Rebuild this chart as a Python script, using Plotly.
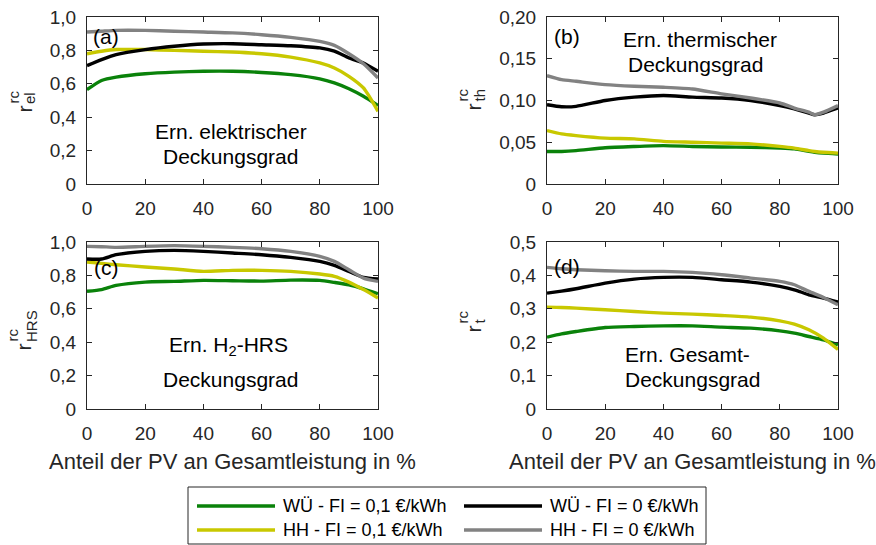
import plotly.graph_objects as go

W, H = 876, 545

# ---------------- data ----------------
x_a = [0, 5, 10, 20, 30, 40, 50, 60, 70, 80, 85, 90, 95, 100]
a_wue_01 = [0.565, 0.62, 0.64, 0.66, 0.67, 0.675, 0.675, 0.668, 0.655, 0.63, 0.605, 0.57, 0.525, 0.47]
a_wue_0 = [0.709, 0.745, 0.775, 0.805, 0.825, 0.838, 0.84, 0.834, 0.828, 0.815, 0.795, 0.755, 0.725, 0.675]
a_hh_01 = [0.78, 0.795, 0.805, 0.805, 0.80, 0.795, 0.79, 0.78, 0.76, 0.725, 0.695, 0.645, 0.575, 0.435]
a_hh_0 = [0.91, 0.915, 0.92, 0.92, 0.915, 0.91, 0.905, 0.894, 0.878, 0.854, 0.83, 0.78, 0.72, 0.635]

x_b = [0, 5, 10, 20, 30, 40, 50, 60, 70, 80, 85, 90, 92, 95, 100]
b_wue_01 = [0.039, 0.039, 0.040, 0.0435, 0.045, 0.046, 0.045, 0.0443, 0.044, 0.043, 0.042, 0.039, 0.038, 0.037, 0.036]
b_wue_0 = [0.095, 0.0925, 0.093, 0.100, 0.104, 0.106, 0.104, 0.103, 0.100, 0.094, 0.090, 0.085, 0.083, 0.085, 0.091]
b_hh_01 = [0.064, 0.060, 0.058, 0.055, 0.054, 0.051, 0.050, 0.049, 0.048, 0.045, 0.043, 0.040, 0.039, 0.038, 0.037]
b_hh_0 = [0.1297, 0.125, 0.123, 0.119, 0.117, 0.1158, 0.1138, 0.108, 0.103, 0.097, 0.091, 0.086, 0.083, 0.086, 0.094]

x_c = [0, 5, 10, 20, 30, 40, 50, 60, 70, 80, 85, 90, 95, 100]
c_wue_01 = [0.705, 0.715, 0.74, 0.76, 0.764, 0.77, 0.768, 0.766, 0.772, 0.77, 0.758, 0.744, 0.72, 0.69]
c_wue_0 = [0.898, 0.898, 0.924, 0.944, 0.95, 0.944, 0.934, 0.924, 0.908, 0.884, 0.86, 0.824, 0.788, 0.778]
c_hh_01 = [0.88, 0.872, 0.864, 0.85, 0.838, 0.824, 0.83, 0.83, 0.824, 0.808, 0.794, 0.76, 0.715, 0.665]
c_hh_0 = [0.974, 0.972, 0.968, 0.974, 0.978, 0.974, 0.968, 0.96, 0.944, 0.914, 0.884, 0.834, 0.784, 0.764]

x_d = [0, 5, 10, 20, 30, 40, 50, 60, 70, 80, 85, 90, 95, 100]
d_wue_01 = [0.215, 0.225, 0.232, 0.244, 0.247, 0.249, 0.249, 0.245, 0.242, 0.234, 0.227, 0.217, 0.207, 0.192]
d_wue_0 = [0.347, 0.353, 0.36, 0.377, 0.389, 0.394, 0.394, 0.387, 0.38, 0.367, 0.357, 0.342, 0.332, 0.32]
d_hh_01 = [0.305, 0.304, 0.302, 0.297, 0.292, 0.287, 0.284, 0.28, 0.275, 0.264, 0.254, 0.237, 0.212, 0.178]
d_hh_0 = [0.424, 0.42, 0.417, 0.414, 0.412, 0.412, 0.409, 0.402, 0.392, 0.382, 0.372, 0.352, 0.334, 0.312]

series_names = ["WÜ - FI = 0,1 €/kWh", "WÜ - FI = 0 €/kWh", "HH - FI = 0,1 €/kWh", "HH - FI = 0 €/kWh"]
series_colors = ["#0a820a", "#000000", "#c8c800", "#828282"]

x_tickvals = [0, 20, 40, 60, 80, 100]
x_ticktext = ["0", "20", "40", "60", "80", "100"]
y_ticks_a = [0, 0.2, 0.4, 0.6, 0.8, 1.0]
y_text_a = ["0", "0,2", "0,4", "0,6", "0,8", "1,0"]
y_ticks_b = [0, 0.05, 0.10, 0.15, 0.20]
y_text_b = ["0", "0,05", "0,10", "0,15", "0,20"]
y_ticks_d = [0, 0.1, 0.2, 0.3, 0.4, 0.5]
y_text_d = ["0", "0,1", "0,2", "0,3", "0,4", "0,5"]

panel_labels = ["(a)", "(b)", "(c)", "(d)"]
panel_text1 = ["Ern. elektrischer", "Ern. thermischer", "Ern. H<sub>2</sub>-HRS", "Ern. Gesamt-"]
panel_text2 = ["Deckungsgrad", "Deckungsgrad", "Deckungsgrad", "Deckungsgrad"]
y_subs = ["el", "th", "HRS", "t"]
x_title = "Anteil der PV an Gesamtleistung in %"

# ---------------- layout helpers ----------------
FONT = "Liberation Sans, Arial, sans-serif"
AX = "#262626"


def px(xp):
    return xp / W


def py(yp):
    return 1 - yp / H


# panel pixel boxes: (left, right, top, bottom)
boxes = [(87, 378, 17, 184), (547, 838, 17, 184), (87, 378, 242, 409), (547, 838, 242, 409)]

fig = go.Figure()

panels = [
    (x_a, [a_wue_01, a_hh_01, a_wue_0, a_hh_0], [0, 1], y_ticks_a, y_text_a),
    (x_b, [b_wue_01, b_hh_01, b_wue_0, b_hh_0], [0, 0.2], y_ticks_b, y_text_b),
    (x_c, [c_wue_01, c_hh_01, c_wue_0, c_hh_0], [0, 1], y_ticks_a, y_text_a),
    (x_d, [d_wue_01, d_hh_01, d_wue_0, d_hh_0], [0, 0.5], y_ticks_d, y_text_d),
]
draw_order = [0, 2, 1, 3]  # indices into series_names/colors matching list order above

for i, (xs, ys_list, yr, ytv, ytt) in enumerate(panels):
    xa = "x" if i == 0 else f"x{i+1}"
    ya = "y" if i == 0 else f"y{i+1}"
    for ys, si in zip(ys_list, draw_order):
        fig.add_trace(go.Scatter(
            x=xs, y=ys, mode="lines", xaxis=xa, yaxis=ya,
            line=dict(color=series_colors[si], width=3.4, shape="spline", smoothing=0.6),
            name=series_names[si], showlegend=False, hoverinfo="skip"))
    l, r, t, b = boxes[i]
    axis_common = dict(showline=True, linecolor=AX, linewidth=1, mirror="ticks", ticks="inside",
                       ticklen=5, tickcolor=AX, tickwidth=1, showgrid=False, zeroline=False,
                       tickfont=dict(family=FONT, size=19, color=AX), automargin=False)
    xkey = "xaxis" if i == 0 else f"xaxis{i+1}"
    ykey = "yaxis" if i == 0 else f"yaxis{i+1}"
    xdict = dict(axis_common, domain=[px(l), px(r)], range=[0, 100], tickvals=x_tickvals,
                 ticktext=x_ticktext, anchor=ya, ticklabelstandoff=7)
    if i >= 2:
        xdict["title"] = dict(text=x_title, font=dict(family=FONT, size=22, color=AX), standoff=10)
    ydict = dict(axis_common, domain=[py(b), py(t)], range=yr, tickvals=ytv, ticktext=ytt,
                 anchor=xa, ticklabelstandoff=6)
    fig.layout[xkey] = xdict
    fig.layout[ykey] = ydict

# ---------------- annotations ----------------
annots = []
lab_pos = [(106, 37), (567, 37), (106, 267), (567, 266)]
txt_pos = [((231, 131), (230, 157)), ((700, 39), (695, 64)),
           ((228, 346), (230, 379)), ((687, 354), (692, 379))]
# y-title glyph positions: (r center x, r bottom y, sup center x, sub center x)
ytitle_pos = [(24, 114, 13, 30), (473, 112, 462, 479), (23, 352, 12, 31), (473, 334, 462, 479)]

for i in range(4):
    lx, ly = lab_pos[i]
    annots.append(dict(text=panel_labels[i], x=px(lx), y=py(ly), xref="paper", yref="paper",
                       showarrow=False, xanchor="center", yanchor="middle",
                       font=dict(family=FONT, size=21, color="#000000")))
    (x1, y1), (x2, y2) = txt_pos[i]
    annots.append(dict(text=panel_text1[i], x=px(x1), y=py(y1), xref="paper", yref="paper",
                       showarrow=False, xanchor="center", yanchor="middle",
                       font=dict(family=FONT, size=21, color="#000000")))
    annots.append(dict(text=panel_text2[i], x=px(x2), y=py(y2), xref="paper", yref="paper",
                       showarrow=False, xanchor="center", yanchor="middle",
                       font=dict(family=FONT, size=21, color="#000000")))
    rx, rb, sx, bx = ytitle_pos[i]
    annots.append(dict(text="r", x=px(rx), y=py(rb), xref="paper", yref="paper", textangle=-90,
                       showarrow=False, xanchor="center", yanchor="bottom", borderpad=0,
                       font=dict(family=FONT, size=21, color=AX)))
    annots.append(dict(text="rc", x=px(sx), y=py(rb - 9), xref="paper", yref="paper", textangle=-90,
                       showarrow=False, xanchor="center", yanchor="bottom", borderpad=0,
                       font=dict(family=FONT, size=15, color=AX)))
    annots.append(dict(text=y_subs[i], x=px(bx), y=py(rb - 9), xref="paper", yref="paper", textangle=-90,
                       showarrow=False, xanchor="center", yanchor="bottom", borderpad=0,
                       font=dict(family=FONT, size=15, color=AX)))

# ---------------- legend (drawn box) ----------------
shapes = [dict(type="rect", xref="paper", yref="paper", x0=px(188), x1=px(706), y0=py(544), y1=py(487),
               line=dict(color=AX, width=1), fillcolor="white")]
leg_cells = [(197, 506), (464, 506), (197, 530), (464, 530)]
for k, (lx0, ly0) in enumerate(leg_cells):
    shapes.append(dict(type="line", xref="paper", yref="paper", x0=px(lx0), x1=px(lx0 + 78),
                       y0=py(ly0), y1=py(ly0), line=dict(color=series_colors[k], width=3.4)))
    annots.append(dict(text=series_names[k], x=px(lx0 + 84), y=py(ly0), xref="paper", yref="paper",
                       showarrow=False, xanchor="left", yanchor="middle",
                       font=dict(family=FONT, size=18, color="#000000")))

fig.update_layout(
    width=W, height=H, margin=dict(l=0, r=0, t=0, b=0),
    paper_bgcolor="white", plot_bgcolor="white",
    annotations=annots, shapes=shapes, showlegend=False,
    font=dict(family=FONT, color=AX),
)

fig.write_html("out.html")
